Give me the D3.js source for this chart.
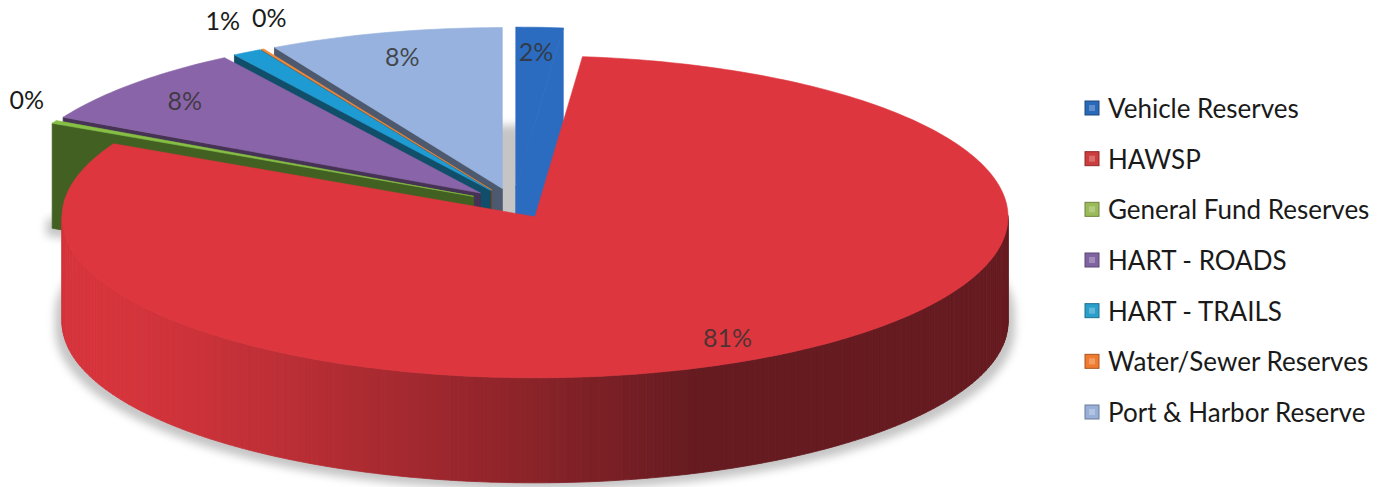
<!DOCTYPE html>
<html>
<head>
<meta charset="utf-8">
<script src="https://cdn.jsdelivr.net/npm/d3@7"></script>
<style>
  body { margin: 0; background: #ffffff; }
  svg { display: block; }
  text { font-family: Lato, "Open Sans", sans-serif; }
</style>
</head>
<body>
<svg id="chart" width="1389" height="487"></svg>
<script>
// ---------------- data ----------------
const categories = ["Vehicle Reserves", "HAWSP", "General Fund Reserves", "HART - ROADS",
                    "HART - TRAILS", "Water/Sewer Reserves", "Port & Harbor Reserve"];
const values = [1.6, 80.9, 0.3, 8.1, 1.0, 0.1, 8.0];
const colors = ["#2b6cc0", "#de363e", "#86bf45", "#8a64a8", "#1f9bd3", "#f08a3c", "#97b2de"];
const legendColors = ["#2a68b8", "#cc3d3d", "#9bbb59", "#8064a2", "#2b9fcb", "#f07a30", "#98b0d8"];

// ---------------- layout / style ----------------
const W = 1389, H = 487;
const cx = 513.5, cy = 203.4;     // pie centre (top face)
const rx = 473, ry = 161;         // projected radii
const depth = 105;                // projected thickness
const explode = 0.095;            // explosion, fraction of radius
const svg = d3.select("#chart");

const xS = d3.scaleLinear().domain([-1, 1]).range([cx - rx, cx + rx]);
const zS = d3.scaleLinear().domain([-1, 1]).range([cy - ry, cy + ry]);
const proj = (x, z, lvl) => [xS(x), zS(z) + lvl * depth];

const total = d3.sum(values);
const arcs = d3.pie().sort(null).value(d => d)(values);
const line = d3.line();

function shade(c, f) {
  const k = d3.rgb(c);
  return d3.rgb(k.r * f, k.g * f, k.b * f).formatHex();
}
const wallTint = "#5a2a3a";
// lights
const Lw = [-1, 0.35]; const LwN = Math.hypot(...Lw);
const Lr = [1, 0.2];   const LrN = Math.hypot(...Lr);

const slices = arcs.map((a, i) => {
  const a0 = a.startAngle, a1 = a.endAngle, mid = (a0 + a1) / 2;
  const ox = explode * Math.sin(mid), oz = -explode * Math.cos(mid);
  const pt = (th, r, lvl) => proj(ox + r * Math.sin(th), oz - r * Math.cos(th), lvl);
  const sortZ = oz - 0.5 * Math.cos(mid);
  return { i, a0, a1, mid, ox, oz, pt, sortZ, color: colors[i], value: values[i] };
});

// ---------------- shadow (floor) ----------------
const defs = svg.append("defs");
const flt = defs.append("filter").attr("id", "shadow")
  .attr("x", "-10%").attr("y", "-10%").attr("width", "120%").attr("height", "130%");
flt.append("feMorphology").attr("operator", "dilate").attr("radius", 7).attr("result", "d");
flt.append("feGaussianBlur").attr("in", "d").attr("stdDeviation", 4);

const gShadow = svg.append("g").attr("filter", "url(#shadow)").attr("opacity", 0.5);
slices.forEach(s => {
  const n = Math.max(2, Math.ceil((s.a1 - s.a0) / (Math.PI / 180)));
  const pts = [s.pt(0, 0, 1)];
  for (let j = 0; j <= n; j++) pts.push(s.pt(s.a0 + (s.a1 - s.a0) * j / n, 1, 1));
  gShadow.append("path").attr("d", line(pts) + "Z").attr("fill", "#8c8c8c");
});

// ---------------- pie slices ----------------
const gPie = svg.append("g");
slices.slice().sort((p, q) => p.sortZ - q.sortZ).forEach(s => {
  const g = gPie.append("g");
  const span = s.a1 - s.a0;
  const n = Math.max(2, Math.ceil(span / (Math.PI / 180)));
  const faces = [];
  // outer wall segments
  for (let j = 0; j < n; j++) {
    const t0 = s.a0 + span * j / n, t1 = s.a0 + span * (j + 1) / n, tm = (t0 + t1) / 2;
    const nx = Math.sin(tm), nz = -Math.cos(tm);
    if (nz <= 0) continue;
    const d = Math.max(0, (nx * Lw[0] + nz * Lw[1]) / LwN);
    const f = 0.47 + 0.5 * d;
    const col = d3.interpolateRgb(shade(s.color, f), wallTint)(0.12 * (1 - d));
    faces.push({ z: nz, pts: [s.pt(t0, 1, 0), s.pt(t1, 1, 0), s.pt(t1, 1, 1), s.pt(t0, 1, 1)], fill: d3.rgb(col).formatHex() });
  }
  // radial faces
  const radial = (th, sign) => {
    const nx = sign * Math.cos(th), nz = sign * Math.sin(th);
    if (nz <= 0.001) return;
    const d = Math.max(0, (nx * Lr[0] + nz * Lr[1]) / LrN);
    const f = 0.5 + 0.5 * d;
    faces.push({ z: -0.5 * Math.cos(th), pts: [s.pt(th, 0, 0), s.pt(th, 1, 0), s.pt(th, 1, 1), s.pt(th, 0, 1)], fill: shade(s.color, f) });
  };
  radial(s.a0, -1);
  radial(s.a1, 1);
  faces.sort((p, q) => p.z - q.z).forEach(fc => {
    g.append("path").attr("d", line(fc.pts) + "Z")
      .attr("fill", fc.fill).attr("stroke", fc.fill).attr("stroke-width", 0.8);
  });
  // top face
  const top = [s.pt(0, 0, 0)];
  for (let j = 0; j <= n; j++) top.push(s.pt(s.a0 + span * j / n, 1, 0));
  g.append("path").attr("d", line(top) + "Z")
    .attr("fill", s.color).attr("stroke", s.color).attr("stroke-width", 0.6);
});

// ---------------- data labels ----------------
const gLab = svg.append("g").attr("font-size", 25);
const placed = [];
slices.forEach(s => {
  const pct = Math.round(s.value / total * 100);
  const txt = pct + "%";
  if (s.value >= 1.5) {
    const p = s.pt(s.mid, 0.85, 0);
    gLab.append("text").attr("x", p[0]).attr("y", p[1])
      .attr("text-anchor", "middle").attr("dominant-baseline", "central")
      .attr("fill", "#333333").attr("fill-opacity", 0.85).text(txt);
  } else {
    const rim = s.pt(s.mid, 1, 0), c0 = s.pt(0, 0, 0);
    let dx = rim[0] - c0[0], dy = rim[1] - c0[1];
    const L = Math.hypot(dx, dy); dx /= L; dy /= L;
    let x = rim[0] + dx * 28, y = rim[1] + dy * 28 - 18;
    const t = gLab.append("text").attr("x", x).attr("y", y)
      .attr("text-anchor", "middle").attr("dominant-baseline", "central")
      .attr("fill", "#1a1a1a").text(txt);
    let w = t.node().getComputedTextLength();
    placed.forEach(b => {
      if (Math.abs(b.y - y) < 22 && Math.abs(b.x - x) < (b.w + w) / 2 + 12) {
        x = b.x + (b.w + w) / 2 + 12;
      }
    });
    t.attr("x", x);
    placed.push({ x, y, w });
  }
});

// ---------------- legend ----------------
const legendY = d3.scalePoint().domain(categories).range([108, 412]);
const gLeg = svg.append("g");
categories.forEach((c, i) => {
  const y = legendY(c);
  gLeg.append("rect").attr("x", 1085).attr("y", y - 7).attr("width", 14).attr("height", 14)
    .attr("fill", legendColors[i]).attr("stroke", shade(legendColors[i], 0.7)).attr("stroke-width", 1);
  gLeg.append("rect").attr("x", 1089).attr("y", y - 3).attr("width", 6).attr("height", 6)
    .attr("fill", "#ffffff").attr("opacity", 0.25);
  gLeg.append("text").attr("x", 1108).attr("y", y)
    .attr("dominant-baseline", "central").attr("font-size", 26).attr("fill", "#1a1a1a").text(c);
});
</script>
</body>
</html>
